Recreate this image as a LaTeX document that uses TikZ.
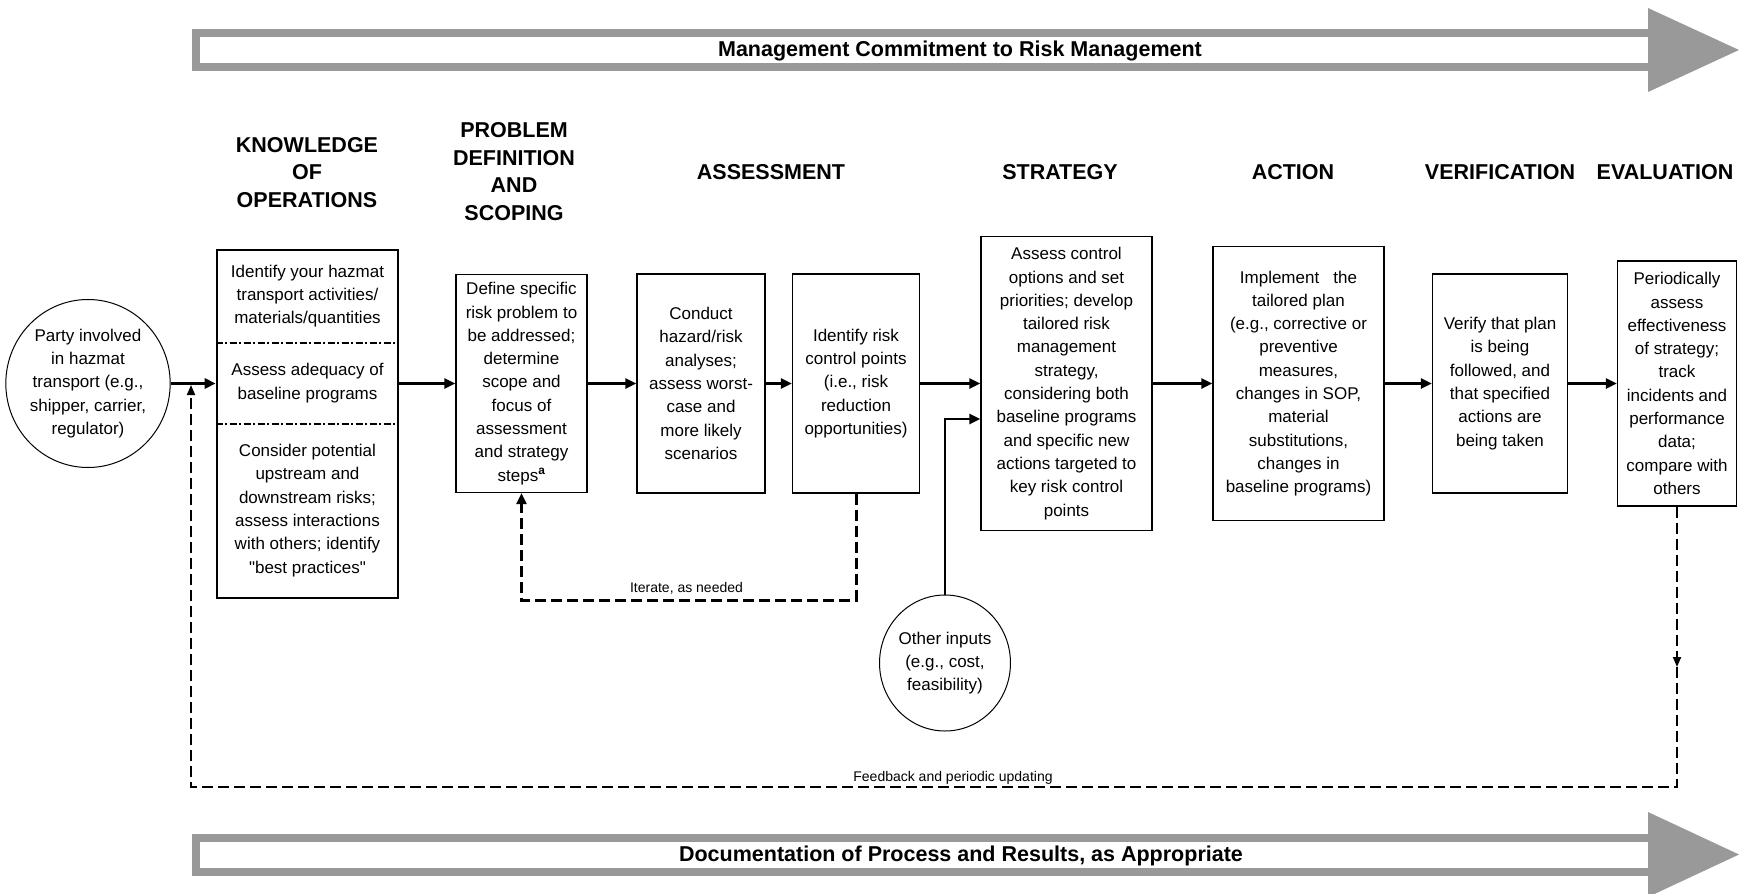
\documentclass[tikz,border=0pt]{standalone}
\usepackage{fontspec}
\setmainfont{Liberation Sans}
\usetikzlibrary{shapes.geometric,arrows.meta,calc}
\definecolor{bandgray}{RGB}{153,153,153}
\begin{document}
\begin{tikzpicture}[x=1pt,y=-1pt,
 box/.style={draw,line width=1.3pt,align=center,inner sep=0pt,font=\fontsize{17}{23.3}\selectfont},
 txt/.style={align=center,inner sep=0pt,font=\fontsize{17}{23.3}\selectfont},
 hd/.style={align=center,inner sep=0pt,font=\fontsize{21.5}{27.5}\selectfont\bfseries},
 oval/.style={draw,ellipse,line width=1pt,align=center,inner sep=0pt,font=\fontsize{17}{23.3}\selectfont},
 flow/.style={line width=2.8pt,-{Triangle[length=11pt,width=10pt]}},
 iter/.style={line width=3pt,dash pattern=on 11pt off 5pt,-{Triangle[length=11pt,width=10pt]}},
 fb/.style={line width=1.8pt,dash pattern=on 11pt off 5pt},
 fbtip/.style={-{Triangle[length=10pt,width=8pt]}},
 smalltxt/.style={inner sep=0pt,font=\fontsize{14}{16}\selectfont},
 band/.style={draw=bandgray,line width=8pt,line join=miter},
 sepline/.style={line width=2pt,dash pattern=on 7pt off 2.5pt on 2pt off 2.5pt},
]
\useasboundingbox (0,0) rectangle (1740,894);

% top band arrow
\draw[band] (1650,33) -- (196,33) -- (196,67) -- (1650,67);
\fill[bandgray] (1648,8) -- (1739,50) -- (1648,92) -- cycle;
\node[hd] (toptitle) at (960,51) {Management Commitment to Risk Management};

% bottom band arrow
\draw[band] (1650,837.5) -- (196,837.5) -- (196,871.5) -- (1650,871.5);
\fill[bandgray] (1648,812) -- (1739,854.5) -- (1648,897) -- cycle;
\node[hd] (bottitle) at (961,856) {Documentation of Process and Results, as Appropriate};

% headers
\node[hd] (h1) at (307,172.5) {KNOWLEDGE\\OF\\OPERATIONS};
\node[hd] (h2) at (514,171.5) {PROBLEM\\DEFINITION\\AND\\SCOPING};
\node[hd] (h3) at (771,172) {ASSESSMENT};
\node[hd] (h4) at (1060,172) {STRATEGY};
\node[hd] (h5) at (1293,172) {ACTION};
\node[hd] (h6) at (1500,172) {VERIFICATION};
\node[hd] (h7) at (1665,172) {EVALUATION};

% party circle
\node[oval,minimum width=160pt,minimum height=168pt] (party) at (88,383.5)
 {Party involved\\in hazmat\\transport (e.g.,\\shipper, carrier,\\regulator)};

% knowledge box
\node[draw,line width=2.6pt,minimum width=181pt,minimum height=348pt,inner sep=0pt] (know) at (307.5,424) {};
\coordinate (s1) at (0,343);
\coordinate (s2) at (0,424);
\draw[sepline] (know.west |- s1) -- (know.east |- s1);
\draw[sepline] (know.west |- s2) -- (know.east |- s2);
\node[txt] (k1) at (307.5,296) {Identify your hazmat\\transport activities/\\materials/quantities};
\node[txt] (k2) at (307.5,383) {Assess adequacy of\\baseline programs};
\node[txt] (k3) at (307.5,510.5) {Consider potential\\upstream and\\downstream risks;\\assess interactions\\with others; identify\\\textquotedbl best practices\textquotedbl};

% process boxes
\node[box,minimum width=131pt,minimum height=218pt] (prob) at (521.5,383.5)
 {Define specific\\risk problem to\\be addressed;\\determine\\scope and\\focus of\\assessment\\and strategy\\steps\textsuperscript{\bfseries a}};
\node[box,minimum width=128pt,minimum height=219pt] (cond) at (701,383.5)
 {Conduct\\hazard/risk\\analyses;\\assess worst-\\case and\\more likely\\scenarios};
\node[box,minimum width=127pt,minimum height=219pt] (ident) at (856,383.5)
 {Identify risk\\control points\\(i.e., risk\\reduction\\opportunities)};
\node[box,minimum width=171pt,minimum height=294pt] (strat) at (1066.5,383.5)
 {Assess control\\options and set\\priorities; develop\\tailored risk\\management\\strategy,\\considering both\\baseline programs\\and specific new\\actions targeted to\\key risk control\\points};
\node[box,minimum width=171pt,minimum height=274pt] (act) at (1298.5,383.5)
 {Implement\ \ \ the\\tailored plan\\(e.g., corrective or\\preventive\\measures,\\changes in SOP,\\material\\substitutions,\\changes in\\baseline programs)};
\node[box,minimum width=135pt,minimum height=219pt] (ver) at (1500,383.5)
 {Verify that plan\\is being\\followed, and\\that specified\\actions are\\being taken};
\node[box,minimum width=119pt,minimum height=245pt] (eval) at (1677,383.5)
 {Periodically\\assess\\effectiveness\\of strategy;\\track\\incidents and\\performance\\data;\\compare with\\others};

% other inputs
\node[oval,minimum width=130pt,minimum height=136pt] (other) at (945,663)
 {Other inputs\\(e.g., cost,\\feasibility)};

% main flow
\draw[flow] (party.east) -- (party.east -| know.west);
\draw[flow] (know.east |- prob.west) -- (prob.west);
\draw[flow] (prob.east) -- (cond.west);
\draw[flow] (cond.east) -- (ident.west);
\draw[flow] (ident.east) -- (strat.west);
\draw[flow] (strat.east) -- (act.west);
\draw[flow] (act.east) -- (ver.west);
\draw[flow] (ver.east) -- (eval.west);

% other inputs connector
\coordinate (oiy) at (0,419);
\draw[flow] (other.north) -- (other.north |- oiy) -- (strat.west |- oiy);

% iterate loop
\coordinate (ity) at (0,600);
\draw[iter] (ident.south) -- (ident.south |- ity) -| (prob.south);
\node[smalltxt] (iterlab) at (686.5,588) {Iterate, as needed};

% feedback loop
\coordinate (fbmid) at (0,667);
\coordinate (fbc) at (191,787);
\coordinate (fbend) at (191,385);
\draw[fb,fbtip] (eval.south) -- (eval.south |- fbmid);
\draw[fb,fbtip] (eval.south |- fbmid) -- (eval.south |- fbc) -- (fbc) -- (fbend);
\node[smalltxt] (fblab) at (953,778) {Feedback and periodic updating};
\end{tikzpicture}
\end{document}
